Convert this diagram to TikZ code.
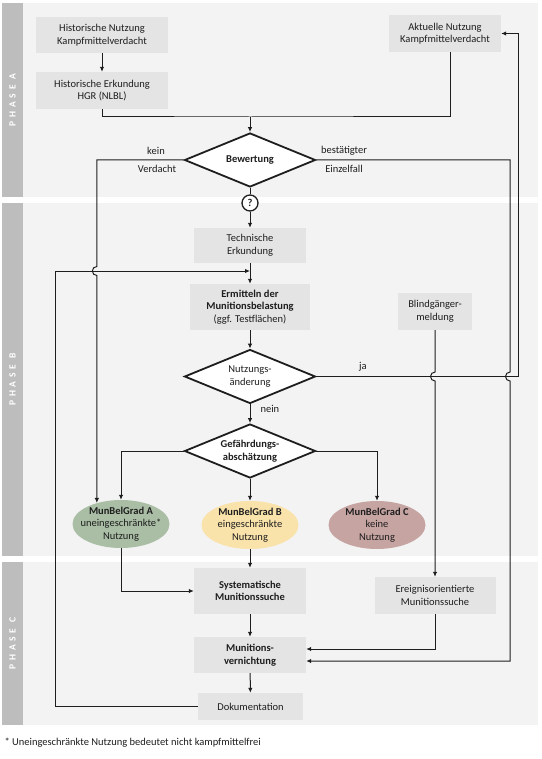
\documentclass[tikz,border=0pt]{standalone}
\usepackage{fontspec}
\setmainfont{Carlito}
\usetikzlibrary{shapes.geometric,arrows.meta}
\definecolor{bandgray}{HTML}{F3F3F3}
\definecolor{sidegray}{HTML}{BDBDBD}
\definecolor{boxgray}{HTML}{E4E4E4}
\definecolor{linecol}{HTML}{1E1E1E}
\definecolor{gradAcol}{HTML}{A9BEA5}
\definecolor{gradBcol}{HTML}{FAE3AB}
\definecolor{gradCcol}{HTML}{C6A4A2}
\newfontfamily\phasefont[LetterSpace=40]{Carlito}

\begin{document}
\begin{tikzpicture}[x=1pt,y=-1pt,>={Latex[length=5pt,width=4.5pt]},
    every node/.style={font=\fontsize{10.5}{12.5}\selectfont,text=linecol},
    box/.style={fill=boxgray,align=center,inner sep=0pt},
    raute/.style={diamond,aspect=2.4,draw=linecol,line width=1.8pt,fill=white,inner sep=0pt,
        minimum width=131pt,minimum height=54pt,align=center},
    grad/.style={ellipse,inner sep=0pt,minimum width=97pt,minimum height=48pt},
    pfeil/.style={->,draw=linecol,line width=1pt},
    linie/.style={draw=linecol,line width=1pt},
    phase/.style={rotate=90,text=white,font=\phasefont\fontsize{9.5}{9.5}\selectfont\bfseries}]
        \useasboundingbox (0,0) rectangle (541,759);
        \foreach \ya/\yb/\ph in {3/197/A,203/556/B,562/725/C}
        {
            \fill[bandgray] (2,\ya) rectangle (538,\yb);
            \fill[sidegray] (2,\ya) rectangle (23,\yb);
            \node[phase] (phase\ph) at (12.5,{(\ya+\yb)/2}) {PHASE \ph};
        }
        \node[box,minimum width=132pt,minimum height=36pt] (hist) at (102,35) {Historische Nutzung\\Kampfmittelverdacht};
        \node[box,minimum width=132pt,minimum height=37pt] (herk) at (102,90.5) {Historische Erkundung\\HGR (NLBL)};
        \node[box,minimum width=112pt,minimum height=37pt] (akt) at (445,33.5) {Aktuelle Nutzung\\Kampfmittelverdacht};
        \node[raute,font=\fontsize{10.5}{12.5}\selectfont\bfseries] (bew) at (250,160) {Bewertung};
        \node[circle,draw=linecol,line width=1.3pt,fill=white,minimum size=16pt,inner sep=0pt,font=\fontsize{10.5}{12.5}\selectfont\bfseries] (frage) at (250,203) {?};
        \node[box,minimum width=112pt,minimum height=35pt] (tech) at (250,245.5) {Technische\\Erkundung};
        \node[box,minimum width=120pt,minimum height=46pt] (erm) at (250,307) {\textbf{Ermitteln der}\\\textbf{Munitionsbelastung}\\(ggf. Testfl\"achen)};
        \node[box,minimum width=74pt,minimum height=37pt] (blind) at (435,311.5) {Blindg\"anger-\\meldung};
        \node[raute] (nutz) at (250,376.5) {Nutzungs-\\\"anderung};
        \node[raute,font=\fontsize{10.5}{12.5}\selectfont\bfseries] (gef) at (250,451) {Gef\"ahrdungs-\\absch\"atzung};
        \node[grad,fill=gradAcol,label={[align=center]center:\textbf{MunBelGrad A}\\uneingeschr\"ankte*\\Nutzung}] (gradA) at (121,524) {};
        \node[grad,fill=gradBcol,label={[align=center]center:\textbf{MunBelGrad B}\\eingeschr\"ankte\\Nutzung}] (gradB) at (250,525) {};
        \node[grad,fill=gradCcol,label={[align=center]center:\textbf{MunBelGrad C}\\keine\\Nutzung}] (gradC) at (377,525) {};
        \node[box,minimum width=112pt,minimum height=46pt,font=\fontsize{10.5}{12.5}\selectfont\bfseries] (sys) at (250,591) {Systematische\\Munitionssuche};
        \node[box,minimum width=112pt,minimum height=36pt,font=\fontsize{10.5}{12.5}\selectfont\bfseries] (vern) at (250,655) {Munitions-\\vernichtung};
        \node[box,minimum width=105pt,minimum height=27pt] (doku) at (250.5,706.5) {Dokumentation};
        \node[box,minimum width=121pt,minimum height=37pt] (ereig) at (435,595.5) {Ereignisorientierte\\Munitionssuche};
        \node (kein) at (156,151) {kein};
        \node (verdacht) at (157,169) {Verdacht};
        \node (bestaetigt) at (344,151) {best\"atigter};
        \node (einzel) at (344,169) {Einzelfall};
        \node (ja) at (363,367) {ja};
        \node[anchor=west] (nein) at (257,409) {nein};
        \node[anchor=west] (fussnote) at (1,743) {* Uneingeschr\"ankte Nutzung bedeutet nicht kampfmittelfrei};
        \coordinate (merge) at (250,117);
        \draw[pfeil] (hist) -- (herk);
        \draw[linie] (herk.south) |- (merge) -| ([xshift=5pt]akt.south);
        \draw[pfeil] (merge) -- (bew.north);
        \draw[linie] (bew.south) -- (frage.north);
        \draw[pfeil] (frage.south) -- (tech.north);
        \draw[pfeil] (tech) -- (erm);
        \draw[pfeil] (erm) -- (nutz);
        \draw[pfeil] (nutz) -- (gef);
        \draw[pfeil] (gef.west) -| (gradA.north);
        \draw[pfeil] (gef.east) -| (gradC.north);
        \draw[pfeil] (gef.south) -- (gradB.north);
        \draw[pfeil] (gradA.south) |- (sys.west);
        \draw[pfeil] (gradB.south) -- (sys.north);
        \draw[pfeil] (sys) -- (vern);
        \draw[pfeil] (vern) -- (doku);
        \draw[pfeil] (bew.west) -| (gradA.139 |- 0,266.5) arc[start angle=90,end angle=270,radius=4.5pt] -- (gradA.139);
        \draw[pfeil] (doku.west) -| (55,271) -- (tech.south |- 0,271);
        \draw[pfeil] (nutz.east) -- ++(202.5,0) |- (akt.east);
        \draw[pfeil] (bew.east) -| (510,372) arc[start angle=90,end angle=270,radius=4.5pt] |- ([yshift=-6pt]vern.east);
        \draw[pfeil] (blind.south) -- (435,372) arc[start angle=90,end angle=270,radius=4.5pt] -- (ereig.north);
        \draw[pfeil] (ereig.south) |- ([yshift=6pt]vern.east);
\end{tikzpicture}
\end{document}
